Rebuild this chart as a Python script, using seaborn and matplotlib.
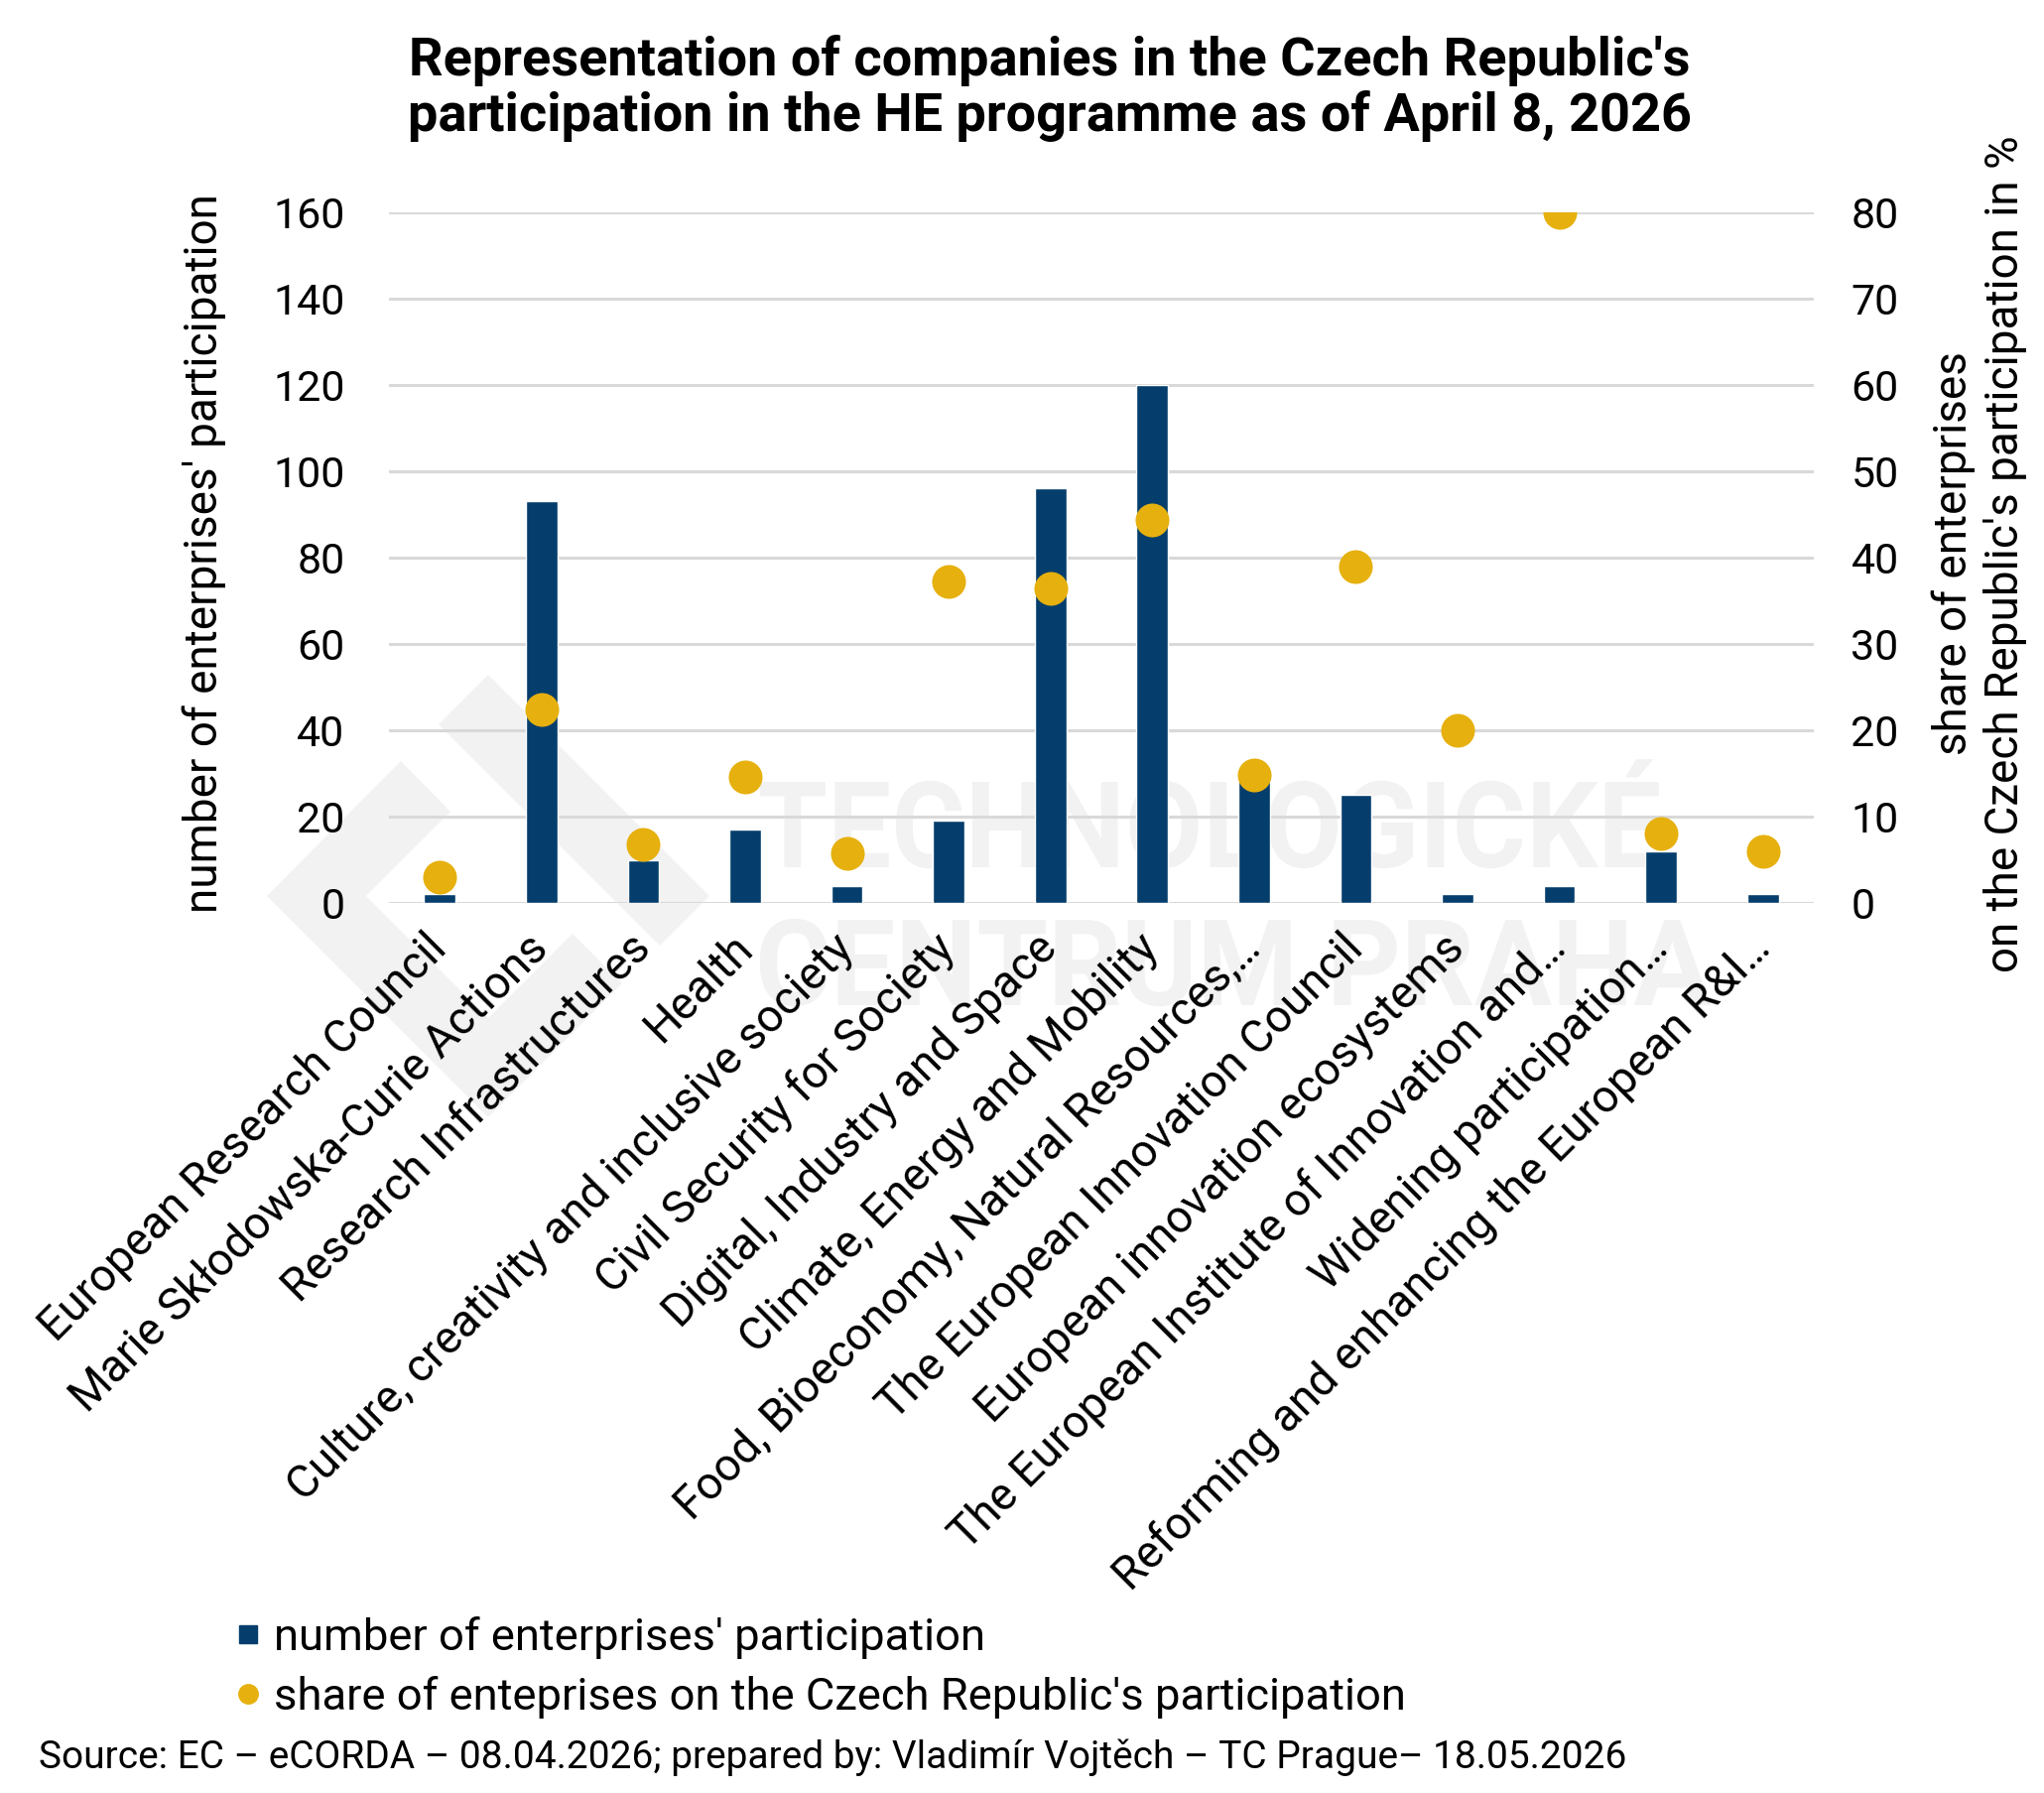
import matplotlib
matplotlib.use("Agg")
import matplotlib.pyplot as plt
import seaborn as sns
import numpy as np
import pandas as pd
from matplotlib.textpath import TextPath
from matplotlib.font_manager import FontProperties
from matplotlib.patches import PathPatch, Polygon
from matplotlib.lines import Line2D
import matplotlib.transforms as mtransforms

categories = [
    "European Research Council",
    "Marie Skłodowska-Curie Actions",
    "Research Infrastructures",
    "Health",
    "Culture, creativity and inclusive society",
    "Civil Security for Society",
    "Digital, Industry and Space",
    "Climate, Energy and Mobility",
    "Food, Bioeconomy, Natural Resources,…",
    "The European Innovation Council",
    "European innovation ecosystems",
    "The European Institute of Innovation and…",
    "Widening participation…",
    "Reforming and enhancing the European R&I…",
]
enterprise_counts = [2, 93, 10, 17, 4, 19, 96, 120, 29, 25, 2, 4, 12, 2]
enterprise_share_pct = [3.0, 22.4, 6.8, 14.6, 5.8, 37.2, 36.4, 44.4, 14.8, 39.0, 20.0, 80.0, 8.0, 6.0]
left_ticks = [0, 20, 40, 60, 80, 100, 120, 140, 160]
right_ticks = [0, 10, 20, 30, 40, 50, 60, 70, 80]

title_text = "Representation of companies in the Czech Republic's\nparticipation in the HE programme as of April 8, 2026"
left_label = "number of enterprises' participation"
right_label = "share of enterprises\non the Czech Republic's participation in %"
legend_labels = ["number of enterprises' participation",
                 "share of enteprises on the Czech Republic's participation"]
source_text = "Source: EC – eCORDA – 08.04.2026; prepared by: Vladimír Vojtěch – TC Prague– 18.05.2026"

NAVY = "#053E6C"
GOLD = "#E6B00E"
GRID = "#d9d9d9"
WM = "#f2f2f2"

sns.set_theme(style="white")
plt.rcParams["font.family"] = ["Roboto", "DejaVu Sans"]
plt.rcParams["text.color"] = "black"
plt.rcParams["axes.labelcolor"] = "black"
plt.rcParams["xtick.color"] = "black"
plt.rcParams["ytick.color"] = "black"

W, H = 2060, 1807
fig = plt.figure(figsize=(W / 100, H / 100), dpi=100)
fig.patch.set_facecolor("white")

L, R, T, B = 392, 1828, 214, 910
ax = fig.add_axes([L / W, 1 - B / H, (R - L) / W, (B - T) / H])
ax.patch.set_alpha(0)

df = pd.DataFrame({"cat": categories, "count": enterprise_counts, "share": enterprise_share_pct})

sns.barplot(data=df, x="cat", y="count", ax=ax, color=NAVY, width=0.31,
            saturation=1, zorder=3)
ax.set_ylim(0, 160)
ax.set_yticks(left_ticks)
ax.set_xlabel("")
ax.set_ylabel("")
ax.yaxis.grid(True, color=GRID, linewidth=2.2, zorder=0)
ax.set_axisbelow(True)
for s in ax.spines.values():
    s.set_visible(False)
ax.tick_params(axis="y", length=0, pad=32, labelsize=31)
ax.tick_params(axis="x", length=0, pad=28)
ax.set_xticks(range(len(categories)))
ax.set_xticklabels(categories, rotation=45, ha="right", va="center",
                   rotation_mode="anchor", fontsize=33)

ax2 = ax.twinx()
ax2.patch.set_alpha(0)
sns.stripplot(data=df, x="cat", y="share", ax=ax2, jitter=False, color=GOLD,
              size=24.5, linewidth=0, zorder=5)
ax2.set_ylim(0, 80)
ax2.set_yticks(right_ticks)
ax2.set_ylabel("")
ax2.set_xlabel("")
ax2.grid(False)
for s in ax2.spines.values():
    s.set_visible(False)
ax2.tick_params(axis="y", length=0, pad=27, labelsize=31)
ax2.set_xlim(ax.get_xlim())

fig.text(1058 / W, 1 - 89 / H, title_text, ha="center", va="center",
         fontsize=39, fontweight="bold", linespacing=1.12)
fig.text(206 / W, 1 - 558 / H, left_label, rotation=90, ha="center", va="center", fontsize=33)
fig.text(1995 / W, 1 - 558 / H, right_label, rotation=90, ha="center", va="center",
         fontsize=33, multialignment="center", linespacing=1.22)
fig.text(39 / W, 1 - 1771 / H, source_text, ha="left", va="center", fontsize=28)

handles = [Line2D([], [], marker="s", linestyle="none", color=NAVY, markersize=13),
           Line2D([], [], marker="o", linestyle="none", color=GOLD, markersize=14)]
fig.legend(handles, legend_labels, loc="upper left", bbox_to_anchor=(236 / W, 1 - 1629 / H),
           frameon=False, fontsize=32.7, handlelength=0.6, handletextpad=0.28,
           borderpad=0, borderaxespad=0, labelspacing=0.365)

# watermark logo (pixel coordinates, y downward)
def px_poly(pts):
    return Polygon([(x, H - y) for x, y in pts], closed=True, transform=mtransforms.IdentityTransform(),
                   facecolor=WM, edgecolor="none", zorder=-5)

fig.add_artist(px_poly([(442, 730), (492, 680), (715, 903), (665, 953)]))
fig.add_artist(px_poly([(404, 767), (269, 903), (492, 1126), (627, 991), (577, 941),
                        (492, 1026), (369, 903), (454, 818)]))

fp = FontProperties(family="Roboto", weight="bold")
capH = TextPath((0, 0), "H", size=100, prop=fp).get_extents().height
for word, x0, x1, base in [("TECHNOLOGICKÉ", 766, 1672, 874), ("CENTRUM PRAHA", 766, 1724, 1013)]:
    tp = TextPath((0, 0), word, size=100, prop=fp)
    ext = tp.get_extents()
    sx = (x1 - x0) / ext.width
    sy = 86 / capH
    tr = mtransforms.Affine2D().translate(-ext.x0, 0).scale(sx, sy).translate(x0, H - base)
    fig.add_artist(PathPatch(tp, transform=tr, facecolor=WM, edgecolor="none", zorder=-5))

fig.savefig("out.png", dpi=100, facecolor="white")
